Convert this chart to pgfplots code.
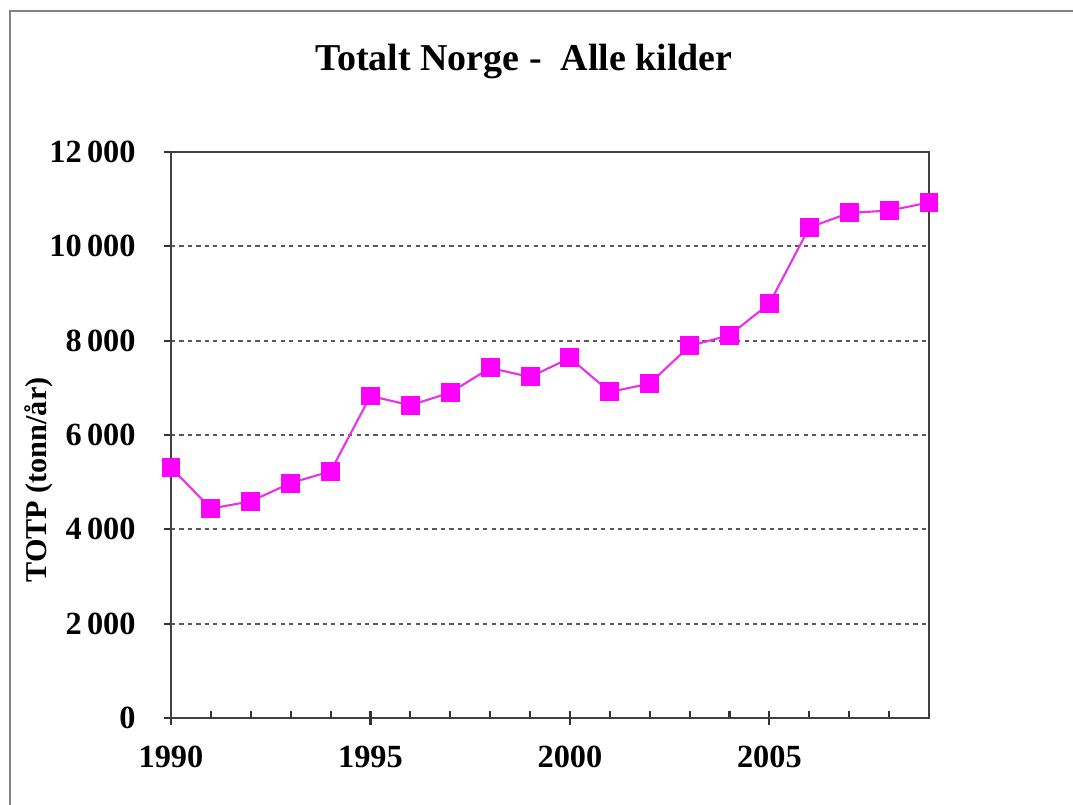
\documentclass[border=0pt]{standalone}
\usepackage{pgfplots}
\pgfplotsset{compat=1.18}
\usepackage{fontspec}
\setmainfont{Liberation Serif}
\definecolor{tpmag}{RGB}{255,0,255}
\definecolor{tpline}{RGB}{232,50,232}
\definecolor{framegray}{RGB}{130,130,130}

\begin{document}
\begin{tikzpicture}
\begin{axis}[
  at={(0,0)}, anchor=south west,
  scale only axis, width=7.58cm, height=5.66cm,
  xmin=1990, xmax=2009, ymin=0, ymax=12000,
  xtick={1990,1995,2000,2005},
  minor xtick={1991,1992,1993,1994,1996,1997,1998,1999,2001,2002,2003,2004,2006,2007,2008},
  extra x ticks={1990,1995,2000,2005},
  extra x tick labels={},
  extra x tick style={xtick align=outside},
  ytick={0,2000,4000,6000,8000,10000,12000},
  tick pos=left,
  xtick align=inside, ytick align=outside,
  major tick length=0.07cm, minor tick length=0.07cm,
  tick style={black!80, line width=0.6pt},
  axis line style={black!75, line width=0.8pt},
  ymajorgrids, major grid style={black!65, dash pattern=on 1.2pt off 1.2pt, line width=0.5pt},
  scaled y ticks=false,
  /pgf/number format/assume math mode=true,
  ticklabel style={font=\bfseries\fontsize{9.2}{11}\selectfont},
  yticklabel style={/pgf/number format/1000 sep={\,}, xshift=-0.16cm},
  xticklabel style={/pgf/number format/1000 sep={}, yshift=-0.16cm},
]
\addplot[tpline, line width=0.6pt, mark=square*, mark size=2.4pt,
  mark options={fill=tpmag, draw=tpmag}] coordinates {
(1990,5309) (1991,4439) (1992,4594) (1993,4982) (1994,5230)
(1995,6827) (1996,6630) (1997,6899) (1998,7421) (1999,7230)
(2000,7633) (2001,6912) (2002,7090) (2003,7888) (2004,8115)
(2005,8787) (2006,10399) (2007,10708) (2008,10759) (2009,10929)
};
\end{axis}
% outer frame (only top and left are visible)
\draw[framegray, line width=0.02cm] (-1.61,-0.87) -- (-1.61,7.07) -- (9.02,7.07);
\node[font=\bfseries\fontsize{10.8}{13}\selectfont] at (3.53,6.56) {Totalt Norge -\ \ Alle kilder};
\node[font=\bfseries\fontsize{8.6}{11}\selectfont, rotate=90] at (-1.32,2.38) {TOTP (tonn/år)};
\pgfresetboundingbox
\path[use as bounding box] (-1.71,-0.87) rectangle (9.02,7.18);
\end{tikzpicture}
\end{document}
